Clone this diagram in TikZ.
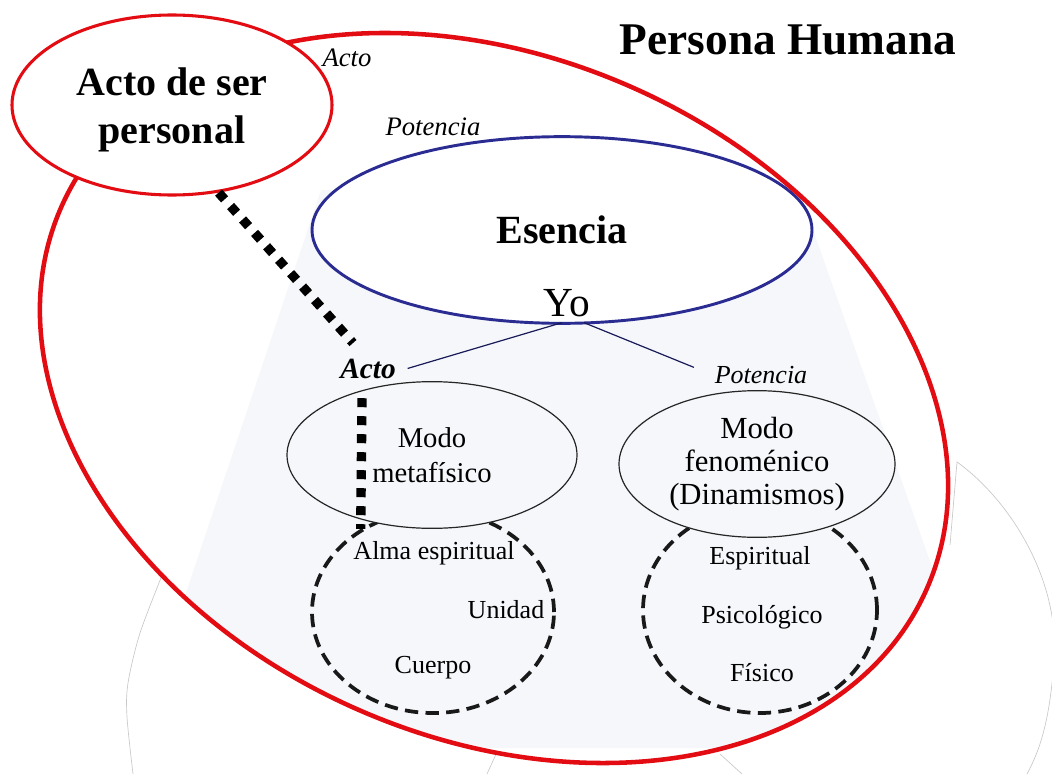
\documentclass[tikz,border=0pt]{standalone}
\usepackage{fontspec}
\setmainfont{Liberation Serif}
\usepackage{tikz}
\usetikzlibrary{calc,shapes,positioning}
\definecolor{rojo}{RGB}{226,12,18}
\definecolor{azul}{RGB}{42,44,146}
\definecolor{fondo}{RGB}{245,247,250}
\definecolor{gris}{RGB}{200,200,200}

\begin{document}
\begin{tikzpicture}[x=0.75pt, y=0.75pt,
    grande/.style={draw=rojo, line width=3.4pt},
    ser/.style={ellipse, draw=rojo, line width=2.3pt, fill=white, minimum width=240pt, minimum height=135pt},
    titulo/.style={align=center, font=\fontsize{30}{36}\selectfont\bfseries},
    esencia/.style={ellipse, draw=azul, line width=2.2pt, fill=white, minimum width=375pt, minimum height=140pt, font=\fontsize{30}{36}\selectfont\bfseries},
    modo/.style={ellipse, draw=black!85, line width=0.9pt, fill=fondo, align=center, inner sep=0pt},
    grupo/.style={ellipse, draw=black!90, line width=2.8pt, dash pattern=on 10pt off 5.5pt},
    etiqueta/.style={font=\fontsize{20}{24}\selectfont\itshape, inner sep=2pt, anchor=base},
    texto/.style={font=\fontsize{19.5}{24}\selectfont, inner sep=0pt},
    puntos/.style={line width=7pt, dash pattern=on 6.75pt off 6.75pt},
    rama/.style={draw=azul!60!black, line width=0.9pt},
    borde/.style={draw=gris, line width=0.5pt}]
           \useasboundingbox (0,0) rectangle (1052,-774);
           \draw[borde] plot[smooth] coordinates {(163,-573) (140,-633) (128,-683) (127,-717) (133,-774)};
           \draw[borde] (950,-545) -- (957,-462) .. controls (1010,-500) and (1060,-580) .. (1054,-660) .. controls (1050,-720) and (1040,-750) .. (1027,-774);
           \draw[borde] (497,-752) -- (487,-774);
           \draw[borde] (720,-754) -- (742,-774);
           \begin{scope}
             \clip[rotate around={-23.8:(494,-398)}] (494,-398) ellipse (473 and 340);
             \fill[fondo] (321,-190) -- (799,-190) -- (996,-748) -- (134,-748) -- cycle;
           \end{scope}
           \node[esencia] (esen) at (562,-230) {Esencia};
           \draw[grande, rotate around={-23.8:(494,-398)}] (494,-398) ellipse (473 and 340);
           \node[ser] (ser) at (172,-105) {};
           \node[titulo] (serT) at (172,-110) {Acto de ser\\personal};
           \node[font=\fontsize{34}{40}\selectfont\bfseries, anchor=base] (persona) at (788,-55) {Persona Humana};
           \node[etiqueta] (actoS) at (347,-67) {Acto};
           \node[etiqueta] (potS) at (433,-135) {Potencia};
           \node[font=\fontsize{31}{36}\selectfont, inner sep=0pt, anchor=base] (yo) at (567,-316) {Yo};

           \node[grupo, minimum width=181.5pt, minimum height=151.5pt] (alma) at (433,-612) {};
           \node[grupo, minimum width=175.5pt, minimum height=154.5pt] (dina) at (760,-610) {};
           \node[modo, minimum width=217.5pt, minimum height=110pt, font=\fontsize{21.5}{26}\selectfont] (meta) at (432,-455) {Modo\\metafísico};
           \node[modo, minimum width=207pt, minimum height=110pt, font=\fontsize{23}{24.5}\selectfont] (feno) at (757,-464) {Modo\\fenoménico\\(Dinamismos)};
           \node[etiqueta, font=\fontsize{22}{24}\selectfont\bfseries\itshape] (actoB) at (368,-378) {Acto};
           \node[etiqueta, font=\fontsize{19.5}{24}\selectfont\itshape] (potR) at (761,-383) {Potencia};

           \node[texto] (alm) at (434,-553) {Alma espiritual};
           \node[texto] (uni) at (506,-610) {Unidad};
           \node[texto] (cue) at (433,-668) {Cuerpo};
           \node[texto] (esp) at (760,-558) {Espiritual};
           \node[texto] (psi) at (762,-617) {Psicológico};
           \node[texto] (fis) at (762,-673) {Físico};

           \draw[rama] ($(yo.south)+(-5,-6)$) -- ($(actoB.east)+(9,0)$);
           \draw[rama] ($(yo.south)+(17,-6)$) -- ($(potR.north west)+(-18,-4.5)$);
           \coordinate (dotA) at (353,-343);
           \draw[puntos] (ser.-62) -- (dotA);
           \draw[puntos] ($(actoB.south)+(-6,-17)$) -- (alma.131);
        \end{tikzpicture}
\end{document}
